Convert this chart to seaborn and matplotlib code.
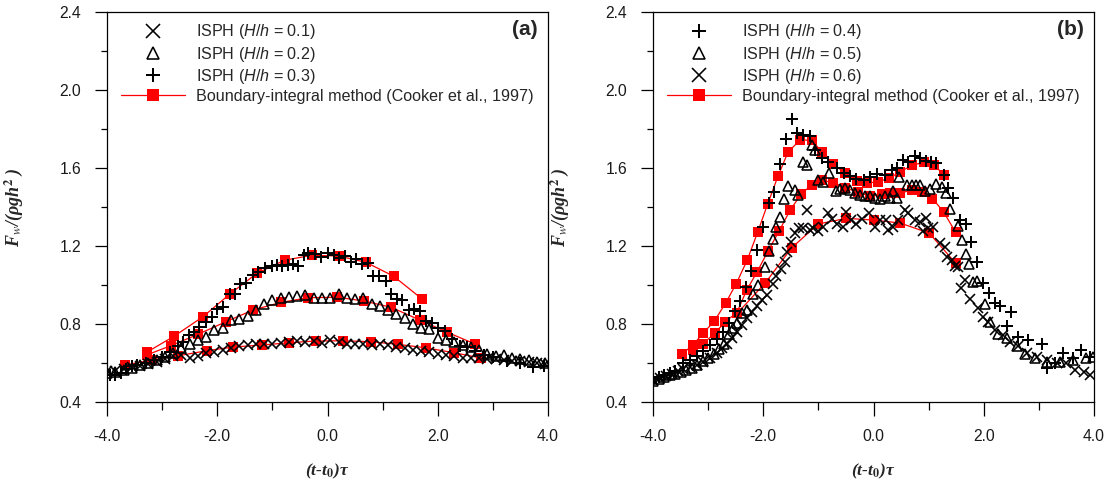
import numpy as np
import pandas as pd
import matplotlib
matplotlib.use("Agg")
import matplotlib.pyplot as plt
from matplotlib.ticker import MultipleLocator, FormatStrFormatter
import seaborn as sns

# ---------------- data: panel (a) ----------------
isph_a1_x = [-4.0,-3.85,-3.7,-3.55,-3.4,-3.25,-3.1,-2.95,-2.8,-2.65,-2.5,-2.35,-2.2,-2.05,-1.9,-1.75,-1.6,-1.45,
             -1.3,-1.15,-1.0,-0.85,-0.7,-0.55,-0.4,-0.25,-0.1,0.05,0.2,0.35,0.5,0.65,0.8,0.95,1.1,1.25,1.4,1.55,
             1.7,1.85,2.0,2.15,2.3,2.45,2.6,2.75,2.9,3.05,3.2,3.35,3.5,3.65,3.8,3.95]
isph_a1_y = [0.56,0.56,0.57,0.58,0.585,0.595,0.605,0.62,0.635,0.64,0.625,0.635,0.65,0.655,0.665,0.675,0.685,0.69,
             0.695,0.695,0.70,0.705,0.71,0.715,0.71,0.715,0.705,0.72,0.71,0.70,0.70,0.695,0.69,0.70,0.69,0.68,0.675,0.665,
             0.66,0.655,0.645,0.64,0.635,0.625,0.625,0.625,0.62,0.62,0.615,0.61,0.61,0.605,0.60,0.595]

isph_a2_x = [-4.0,-3.85,-3.7,-3.55,-3.4,-3.25,-3.1,-2.95,-2.8,-2.65,-2.5,-2.35,-2.2,-2.05,-1.9,-1.75,-1.6,-1.45,
             -1.3,-1.15,-1.0,-0.85,-0.7,-0.55,-0.4,-0.25,-0.1,0.05,0.2,0.35,0.5,0.65,0.8,0.95,1.1,1.25,1.4,1.55,
             1.7,1.85,2.0,2.15,2.3,2.45,2.6,2.75,2.9,3.05,3.2,3.35,3.5,3.65,3.8,3.95]
isph_a2_y = [0.55,0.555,0.565,0.575,0.59,0.60,0.615,0.63,0.65,0.675,0.695,0.72,0.735,0.77,0.78,0.82,0.825,0.84,
             0.87,0.905,0.925,0.935,0.94,0.945,0.95,0.935,0.935,0.935,0.955,0.935,0.93,0.935,0.905,0.89,0.87,0.85,0.83,0.80,
             0.78,0.775,0.73,0.72,0.71,0.69,0.68,0.665,0.645,0.635,0.64,0.625,0.62,0.615,0.605,0.60]

isph_a3_x = [-3.95,-3.85,-3.75,-3.65,-3.55,-3.45,-3.3,-3.15,-3.0,-2.85,-2.72,-2.62,-2.51,-2.42,-2.33,-2.2,-2.1,-2.0,
             -1.89,-1.76,-1.68,-1.59,-1.48,-1.35,-1.26,-1.13,-1.01,-0.92,-0.83,-0.72,-0.62,-0.53,-0.43,-0.35,-0.23,-0.11,
             0.01,0.11,0.21,0.32,0.42,0.52,0.62,0.74,0.83,0.94,1.06,1.15,1.26,1.36,1.47,1.57,1.68,1.79,1.89,2.01,2.13,
             2.25,2.4,2.53,2.68,2.83,3.0,3.25,3.49,3.73,3.92]
isph_a3_y = [0.54,0.54,0.55,0.57,0.585,0.59,0.60,0.615,0.63,0.655,0.685,0.71,0.745,0.76,0.785,0.81,0.835,0.875,
             0.885,0.955,0.955,1.005,1.01,1.05,1.065,1.085,1.10,1.105,1.10,1.105,1.11,1.095,1.155,1.165,1.16,1.145,
             1.165,1.155,1.14,1.15,1.12,1.135,1.11,1.115,1.045,1.045,1.02,0.955,0.93,0.925,0.87,0.875,0.865,0.815,0.805,0.78,0.765,
             0.725,0.685,0.68,0.66,0.64,0.63,0.61,0.60,0.58,0.585]

bim_a1_x = [-3.67,-3.19,-2.71,-2.19,-1.71,-1.19,-0.69,-0.21,0.29,0.79,1.27,1.78,2.29,2.78]
bim_a1_y = [0.59,0.615,0.637,0.663,0.682,0.692,0.704,0.713,0.714,0.709,0.696,0.678,0.653,0.626]
bim_a2_x = [-3.28,-2.84,-2.35,-1.84,-1.35,-0.84,-0.35,0.18,0.66,1.15,1.67,2.16,2.68]
bim_a2_y = [0.641,0.689,0.747,0.812,0.872,0.911,0.935,0.937,0.918,0.886,0.821,0.759,0.697]
bim_a3_x = [-3.28,-2.78,-2.26,-1.77,-1.28,-0.78,-0.29,0.20,0.70,1.20,1.72]
bim_a3_y = [0.655,0.738,0.837,0.954,1.060,1.127,1.152,1.149,1.116,1.045,0.927]

# ---------------- data: panel (b) ----------------
isph_b4_x = [-4.0,-3.9,-3.8,-3.7,-3.6,-3.45,-3.33,-3.21,-3.09,-2.97,-2.84,-2.73,-2.63,-2.52,-2.42,-2.31,-2.23,-2.11,
             -2.0,-1.90,-1.80,-1.70,-1.59,-1.48,-1.39,-1.27,-1.16,-1.06,-0.94,-0.82,-0.67,-0.54,-0.43,-0.31,-0.18,-0.06,
             0.07,0.2,0.33,0.42,0.54,0.63,0.75,0.84,0.95,1.05,1.14,1.27,1.36,1.45,1.57,1.68,1.77,1.88,1.99,2.10,2.20,
             2.29,2.42,2.50,2.63,2.81,3.05,3.14,3.3,3.44,3.62,3.77,3.93]
isph_b4_y = [0.52,0.53,0.54,0.55,0.56,0.60,0.615,0.635,0.66,0.69,0.725,0.76,0.805,0.865,0.92,0.99,1.07,1.18,
             1.30,1.42,1.475,1.62,1.75,1.85,1.78,1.77,1.765,1.69,1.65,1.63,1.60,1.575,1.56,1.545,1.54,1.555,
             1.57,1.565,1.59,1.60,1.64,1.63,1.66,1.65,1.635,1.63,1.625,1.565,1.495,1.445,1.335,1.315,1.22,1.12,1.01,0.96,0.91,
             0.89,0.79,0.86,0.735,0.72,0.695,0.575,0.60,0.65,0.625,0.665,0.63]

isph_b5_x = [-4.0,-3.9,-3.8,-3.7,-3.6,-3.5,-3.4,-3.3,-3.2,-3.1,-3.0,-2.9,-2.8,-2.72,-2.63,-2.55,-2.48,-2.39,-2.30,
             -2.18,-2.09,-1.97,-1.90,-1.83,-1.76,-1.70,-1.63,-1.56,-1.43,-1.37,-1.27,-1.20,-1.12,-1.06,-1.0,-0.91,-0.80,
             -0.68,-0.60,-0.52,-0.43,-0.34,-0.25,-0.15,-0.06,0.03,0.12,0.21,0.30,0.35,0.42,0.47,0.61,0.69,0.77,0.84,0.93,
             1.02,1.13,1.24,1.32,1.39,1.54,1.61,1.68,1.74,1.81,1.88,2.02,2.11,2.26,2.43,2.60,2.75,2.93,3.14,3.38,3.62,3.86,3.98]
isph_b5_y = [0.51,0.52,0.53,0.54,0.545,0.555,0.565,0.575,0.59,0.61,0.625,0.645,0.67,0.70,0.75,0.78,0.805,0.855,0.87,
             0.955,1.0,1.09,1.175,1.235,1.30,1.35,1.44,1.51,1.485,1.46,1.63,1.615,1.72,1.69,1.54,1.53,1.575,
             1.48,1.49,1.50,1.485,1.47,1.46,1.455,1.455,1.445,1.44,1.455,1.445,1.48,1.445,1.555,1.515,1.515,1.515,1.515,1.48,
             1.49,1.52,1.505,1.47,1.39,1.305,1.23,1.16,1.11,1.015,1.02,0.905,0.81,0.75,0.73,0.685,0.645,0.625,0.605,0.605,0.615,0.625,0.63]

isph_b6_x = [-4.0,-3.88,-3.76,-3.65,-3.55,-3.45,-3.33,-3.21,-3.09,-2.97,-2.84,-2.75,-2.66,-2.57,-2.48,-2.39,-2.30,
             -2.21,-2.12,-2.03,-1.94,-1.82,-1.76,-1.68,-1.61,-1.57,-1.50,-1.42,-1.36,-1.27,-1.21,-1.15,-1.09,-1.0,-0.91,
             -0.82,-0.76,-0.67,-0.56,-0.49,-0.41,-0.32,-0.21,-0.09,0.03,0.12,0.23,0.27,0.36,0.45,0.57,0.63,0.75,0.84,0.90,
             0.95,0.99,1.08,1.21,1.30,1.33,1.42,1.48,1.54,1.58,1.66,1.75,1.90,1.99,2.08,2.20,2.35,2.48,2.63,2.78,2.96,
             3.14,3.32,3.50,3.65,3.81,3.93]
isph_b6_y = [0.515,0.525,0.535,0.545,0.56,0.57,0.578,0.59,0.607,0.624,0.65,0.675,0.70,0.727,0.76,0.795,0.83,
             0.863,0.89,0.923,0.95,1.005,1.045,1.08,1.12,1.17,1.22,1.265,1.29,1.29,1.385,1.28,1.29,1.275,1.30,
             1.37,1.34,1.315,1.30,1.375,1.335,1.315,1.34,1.37,1.30,1.335,1.335,1.28,1.30,1.335,1.385,1.37,1.335,1.325,1.275,
             1.345,1.29,1.30,1.215,1.195,1.145,1.13,1.095,1.09,0.985,1.025,0.93,0.88,0.835,0.81,0.77,0.745,0.71,0.685,0.65,0.63,
             0.615,0.60,0.60,0.565,0.555,0.54]

bim_b4_x = [-3.48,-3.27,-3.09,-2.89,-2.68,-2.49,-2.29,-2.10,-1.92,-1.73,-1.55,-1.33,-1.12,-0.94,-0.73,-0.52,-0.30,
            -0.11,0.08,0.29,0.48,0.70,0.91,1.10,1.28]
bim_b4_y = [0.644,0.694,0.753,0.814,0.908,1.007,1.128,1.272,1.415,1.56,1.682,1.744,1.742,1.684,1.62,1.575,1.533,
            1.522,1.53,1.547,1.581,1.613,1.63,1.615,1.564]
bim_b5_x = [-3.27,-3.09,-2.88,-2.69,-2.48,-2.30,-2.11,-1.91,-1.71,-1.51,-1.31,-1.12,-0.94,-0.73,-0.51,-0.29,
            -0.07,0.16,0.30,0.48,0.70,0.88,1.07,1.27,1.49]
bim_b5_y = [0.667,0.70,0.752,0.812,0.858,0.974,1.068,1.176,1.278,1.385,1.467,1.514,1.537,1.525,1.50,1.475,
            1.458,1.465,1.47,1.47,1.488,1.478,1.443,1.376,1.27]
bim_b6_x = [-2.47,-1.96,-1.48,-1.0,-0.49,0.0,0.48,1.01,1.49]
bim_b6_y = [0.855,1.012,1.192,1.313,1.342,1.333,1.318,1.266,1.112]

labels_a = [r"ISPH ($\mathit{H/h}$ = 0.1)", r"ISPH ($\mathit{H/h}$ = 0.2)", r"ISPH ($\mathit{H/h}$ = 0.3)"]
labels_b = [r"ISPH ($\mathit{H/h}$ = 0.4)", r"ISPH ($\mathit{H/h}$ = 0.5)", r"ISPH ($\mathit{H/h}$ = 0.6)"]
label_bim = "Boundary-integral method (Cooker et al., 1997)"
xticks = [-4.0, -2.0, 0.0, 2.0, 4.0]
yticks = [0.4, 0.8, 1.2, 1.6, 2.0, 2.4]

# ---------------- style ----------------
sns.set_style("ticks")
plt.rcParams["font.family"] = ["Liberation Sans", "DejaVu Sans"]
plt.rcParams["mathtext.fontset"] = "custom"
plt.rcParams["mathtext.rm"] = "Liberation Sans"
plt.rcParams["mathtext.it"] = "Liberation Sans:italic"
plt.rcParams["mathtext.bf"] = "Liberation Sans:bold"

fig = plt.figure(figsize=(11.12, 4.83), dpi=100)
W, H = 1112.0, 483.0
axa = fig.add_axes([107 / W, 1 - 402 / H, 441 / W, 390 / H])
axb = fig.add_axes([653 / W, 1 - 402 / H, 441 / W, 390 / H])

RED = "#ff0000"
marker_style = {
    "x": dict(marker="x", markersize=7.8, markeredgewidth=1.15),
    "^": dict(marker="^", markersize=6.8, markeredgewidth=1.15, markerfacecolor="none"),
    "+": dict(marker="+", markersize=8.8, markeredgewidth=1.45),
}


def draw_isph(ax, xs, ys, mk, label):
    df = pd.DataFrame({"t": xs, "F": ys})
    sns.lineplot(data=df, x="t", y="F", ax=ax, estimator=None, sort=False, errorbar=None,
                 linestyle="", color="k", markeredgecolor="k", label=label, zorder=3,
                 **marker_style[mk])


def draw_bim(ax, xs, ys, label):
    df = pd.DataFrame({"t": xs, "F": ys})
    sns.lineplot(data=df, x="t", y="F", ax=ax, estimator=None, sort=False, errorbar=None,
                 color=RED, linewidth=0.9, marker="s", markersize=6.8, markeredgewidth=0,
                 markeredgecolor=RED, markerfacecolor=RED, label=label, zorder=2)


# panel (a)
draw_bim(axa, bim_a1_x, bim_a1_y, label_bim)
draw_bim(axa, bim_a2_x, bim_a2_y, "_nolegend_")
draw_bim(axa, bim_a3_x, bim_a3_y, "_nolegend_")
draw_isph(axa, isph_a1_x, isph_a1_y, "x", labels_a[0])
draw_isph(axa, isph_a2_x, isph_a2_y, "^", labels_a[1])
draw_isph(axa, isph_a3_x, isph_a3_y, "+", labels_a[2])

# panel (b)
draw_bim(axb, bim_b4_x, bim_b4_y, label_bim)
draw_bim(axb, bim_b5_x, bim_b5_y, "_nolegend_")
draw_bim(axb, bim_b6_x, bim_b6_y, "_nolegend_")
draw_isph(axb, isph_b4_x, isph_b4_y, "+", labels_b[0])
draw_isph(axb, isph_b5_x, isph_b5_y, "^", labels_b[1])
draw_isph(axb, isph_b6_x, isph_b6_y, "x", labels_b[2])

xlabel_font = dict(family="Liberation Serif", weight="bold", style="italic", size=12.5)
ylabel_font = dict(family="Liberation Serif", weight="bold", style="italic", size=13)

for ax, tag, order in ((axa, "(a)", labels_a), (axb, "(b)", labels_b)):
    ax.set_xlim(-4, 4)
    ax.set_ylim(0.4, 2.4)
    ax.set_xticks(xticks)
    ax.set_yticks(yticks)
    ax.xaxis.set_minor_locator(MultipleLocator(1.0))
    ax.yaxis.set_minor_locator(MultipleLocator(0.2))
    ax.xaxis.set_major_formatter(FormatStrFormatter("%.1f"))
    ax.yaxis.set_major_formatter(FormatStrFormatter("%.1f"))
    ax.tick_params(axis="both", which="both", direction="out", top=False, right=False,
                   colors="k", width=0.9, labelsize=11.3, labelcolor="#1a1a1a")
    ax.tick_params(axis="x", which="major", length=10, pad=9.5)
    ax.tick_params(axis="x", which="minor", length=5.4)
    ax.tick_params(axis="y", which="major", length=8.6, pad=10)
    ax.tick_params(axis="y", which="minor", length=4.3)
    for sp in ax.spines.values():
        sp.set_visible(True)
        sp.set_color("k")
        sp.set_linewidth(0.9)

    ax.set_xlabel(r"(t-t$_\mathbf{0}$)τ", fontdict=xlabel_font, math_fontfamily="stix")
    ax.set_ylabel(r"F$_w$/(ρgh$^\mathbf{2}$ )", fontdict=ylabel_font, math_fontfamily="stix")
    ax.xaxis.set_label_coords(0.5, -0.153)
    ax.yaxis.set_label_coords(-0.186, 0.5)

    handles, labels = ax.get_legend_handles_labels()
    hmap = dict(zip(labels, handles))
    keys = list(order) + [label_bim]
    ax.legend([hmap[k] for k in keys], keys, loc="upper left", bbox_to_anchor=(0.018, 0.99),
              borderaxespad=0, frameon=False, fontsize=11.6, handlelength=3.97,
              handletextpad=0.68, labelspacing=0.2, markerscale=1.22, numpoints=1)

    ax.text(0.977, 0.954, tag, transform=ax.transAxes, ha="right", va="center",
            fontsize=15, fontweight="bold")

fig.savefig("out.png", dpi=100, facecolor="white")
